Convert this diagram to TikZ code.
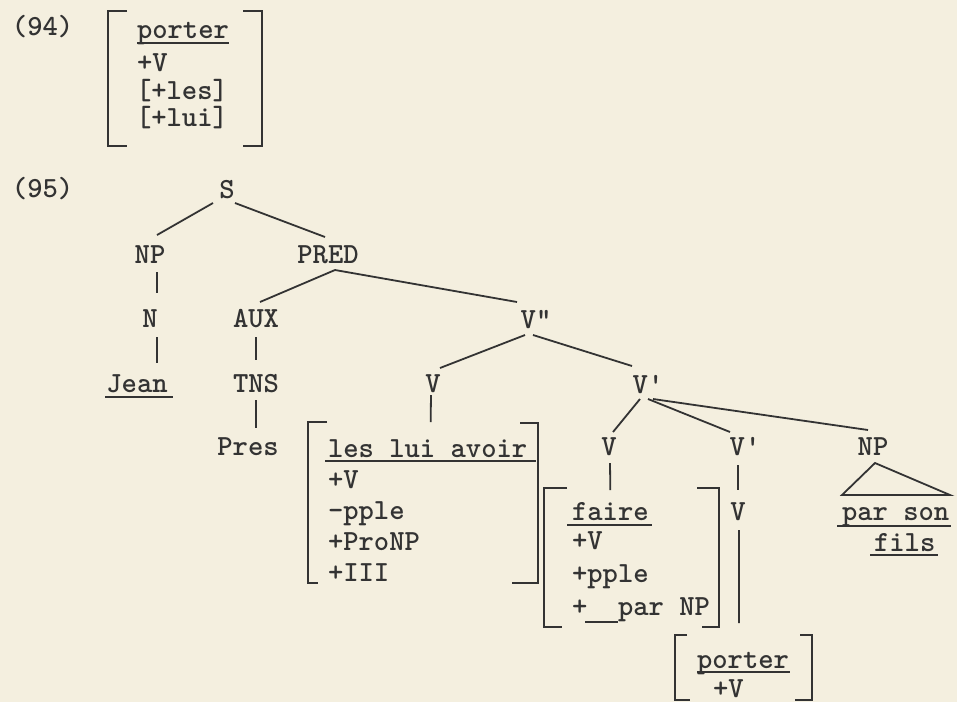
\documentclass[tikz,border=0pt]{standalone}
\usepackage{fontspec}
\setmonofont{lmmonolt10-bold.otf}
\usepackage{tikz}
\definecolor{paper}{HTML}{F4EFDF}
\definecolor{ink}{HTML}{333333}

\begin{document}
\begin{tikzpicture}[x=1pt,y=-1pt,
    lbl/.style={font=\ttfamily\fontsize{29.2}{34}\selectfont,
      inner sep=0pt,outer sep=0pt,anchor=base,text height=15pt,text depth=0pt,text=ink},
    feat/.style={lbl,anchor=base west},
    edge/.style={ink,line width=1.8pt},
    brk/.style={ink,line width=2.6pt}]
  \fill[paper] (0,0) rectangle (957,702);
  \useasboundingbox (0,0) rectangle (957,702);

  % (94)
  \node[feat] (ex94) at (12,35) {(94)};
  \node[feat] (lex1) at (137,38) {porter};
  \node[feat] (lex2) at (137,71) {+V};
  \node[feat] (lex3) at (136,99) {[+les]};
  \node[feat] (lex4) at (136,126) {[+lui]};
  \draw[edge] ([shift={(0,5)}]lex1.base west) -- ([shift={(0,5)}]lex1.base east);
  \draw[brk] (127,11) -- (108,11) -- (108,146) -- (127,146);
  \draw[brk] (243,11) -- (262,11) -- (262,146) -- (243,146);

  % (95)
  \node[feat] (ex95) at (12,197) {(95)};
  \node[lbl] (S) at (227,198) {S};
  \node[lbl] (NP) at (150,263) {NP};
  \node[lbl] (PRED) at (328,263) {PRED};
  \node[lbl] (N) at (150,327) {N};
  \node[lbl] (AUX) at (256,327) {AUX};
  \node[lbl] (Jean) at (137,392) {Jean};
  \node[lbl] (TNS) at (256,392) {TNS};
  \node[lbl] (Vbar2) at (536,328) {V"};
  \node[lbl] (V) at (433,392) {V};
  \node[lbl] (Vbar) at (648,393) {V'};
  \node[lbl] (Pres) at (248,455) {Pres};
  \node[lbl] (Vf) at (609,455) {V};
  \node[lbl] (Vbarr) at (745,455) {V'};
  \node[lbl] (NPr) at (873,455) {NP};
  \node[lbl] (Vp) at (738,520) {V};

  \draw[edge] ([shift={(-14,5)}]S.south) -- ([shift={(7,-13)}]NP.north);
  \draw[edge] ([shift={(8,5)}]S.south) -- ([shift={(-3,-11)}]PRED.north);
  \draw[edge] ([shift={(7,9)}]NP.south) -- ([shift={(7,-19)}]N.north);
  \draw[edge] ([shift={(7,10)}]N.south) -- ([shift={(20,-14)}]Jean.north);
  \draw[edge] ([shift={(-1,5)}]Jean.base west) -- ([shift={(5,5)}]Jean.base east);
  \draw[edge] ([shift={(7,7)}]PRED.south) -- ([shift={(4,-10)}]AUX.north);
  \draw[edge] ([shift={(7,7)}]PRED.south) -- ([shift={(-19,-11)}]Vbar2.north);
  \draw[edge] ([shift={(0,10)}]AUX.south) -- ([shift={(0,-17)}]TNS.north);
  \draw[edge] ([shift={(0,8)}]TNS.south) -- ([shift={(8,-12)}]Pres.north);
  \draw[edge] ([shift={(-11,7)}]Vbar2.south) -- ([shift={(7,-9)}]V.north);
  \draw[edge] ([shift={(-3,7)}]Vbar2.south) -- ([shift={(-16,-12)}]Vbar.north);
  \draw[edge] ([shift={(-8,6)}]Vbar.south) -- ([shift={(4,-8)}]Vf.north);
  \draw[edge] ([shift={(0,6)}]Vbar.south) -- ([shift={(-15,-8)}]Vbarr.north);
  \draw[edge] ([shift={(5,6)}]Vbar.south) -- ([shift={(-5,-10)}]NPr.north);

  % les lui avoir
  \node[feat] (aux1) at (328,457) {les lui avoir};
  \node[feat] (aux2) at (328,488) {+V};
  \node[feat] (aux3) at (328,519) {-pple};
  \node[feat] (aux4) at (328,550) {+ProNP};
  \node[feat] (aux5) at (328,581) {+III};
  \draw[edge] ([shift={(-3,4)}]aux1.base west) -- ([shift={(9,4)}]aux1.base east);
  \draw[edge] ([shift={(-2,3)}]V.south) -- ([shift={(3,-20)}]aux1.north);
  \draw[brk] (327,422) -- (308,422) -- (308,583) -- (318,583);
  \draw[brk] (520,423) -- (538,423) -- (538,583) -- (512,583);

  % faire
  \node[feat] (fa1) at (572,520) {faire};
  \node[feat] (fa2) at (572,549) {+V};
  \node[feat] (fa3) at (572,582) {+pple};
  \node[feat] (fa4) at (572,615) {+\hphantom{xx}par NP};
  \draw[edge] ([shift={(-5,5)}]fa1.base west) -- ([shift={(3,5)}]fa1.base east);
  \draw[edge] ([shift={(13,7)}]fa4.base west) -- ([shift={(46,7)}]fa4.base west);
  \draw[edge] ([shift={(1,8)}]Vf.south) -- ([shift={(0,-15)}]fa1.north);
  \draw[brk] (567,488) -- (544,488) -- (544,627) -- (562,627);
  \draw[brk] (697,488) -- (719,488) -- (719,627) -- (702,627);

  % V' -> V -> porter
  \draw[edge] ([shift={(-7,10)}]Vbarr.south) -- ([shift={(0,-15)}]Vp.north);
  \node[feat] (po1) at (697,668) {porter};
  \node[feat] (po2) at (713,697) {+V};
  \draw[edge] ([shift={(0,4)}]po1.base west) -- ([shift={(1,4)}]po1.base east);
  \draw[edge] ([shift={(1,10)}]Vp.south) -- ([shift={(-4,-30)}]po1.north);
  \draw[brk] (687,635) -- (675,635) -- (675,700) -- (690,700);
  \draw[brk] (800,635) -- (812,635) -- (812,700) -- (795,700);

  % par son fils
  \node[feat] (ps1) at (842,520) {par son};
  \node[feat] (ps2) at (874,551) {fils};
  \draw[edge] ([shift={(2,8)}]NPr.south) -- ([shift={(-31,40)}]NPr.south)
    -- ([shift={(77,40)}]NPr.south) -- cycle;
  \draw[edge] ([shift={(-5,6)}]ps1.base west) -- ([shift={(2,6)}]ps1.base east);
  \draw[edge] ([shift={(-4,4)}]ps2.base west) -- ([shift={(3,4)}]ps2.base east);
\end{tikzpicture}
\end{document}
